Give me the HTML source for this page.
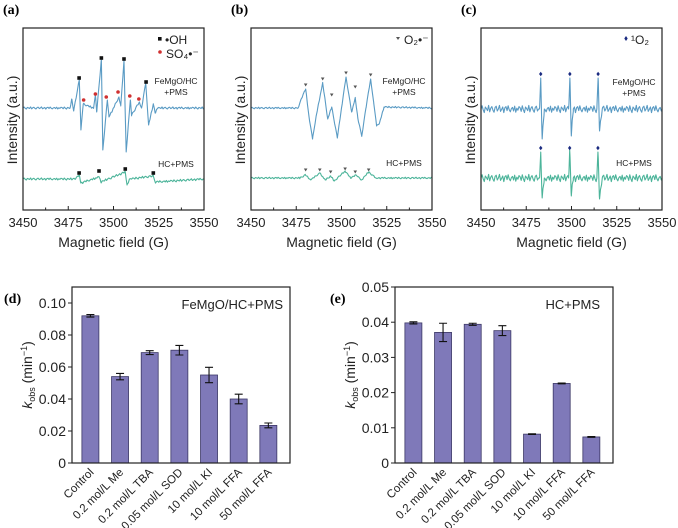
<!DOCTYPE html>
<html><head><meta charset="utf-8"><style>
body{margin:0;background:#fff;}
svg{display:block;font-family:"Liberation Sans",Arial,sans-serif;}
</style></head><body>
<svg id="fig" width="678" height="528" viewBox="0 0 678 528" xmlns="http://www.w3.org/2000/svg">
<g id="root"></g>
</svg>
<script>
// ---- ESR spectra data (field G, intensity a.u. relative to baseline) ----
const fieldTicks = [3450, 3475, 3500, 3525, 3550];
const noise = [0.3,-0.6,0.8,-0.2,-0.9,0.5,0.1,-0.4,0.9,-0.7,0.2,0.6,-0.3,-0.8,0.4,0.7,-0.5,0.0,0.9,-0.6,-0.1,0.5,-0.9,0.3,0.6,-0.4,0.8,-0.2,-0.7,0.1,0.4,-0.5,0.7,-0.8,0.2,-0.3,0.6];
const aTop = [[3450,0],[3476,0],[3476.9,9],[3478,-3],[3481.1,28],[3482,-22],[3483.3,4],[3489,0],[3490,13],[3490.7,-4],[3493.3,48],[3494.1,-42],[3496.6,8],[3497.5,-9],[3500,0],[3503,11],[3504,2],[3505.8,47],[3507,-44],[3509.3,8],[3510,-7],[3514.3,6],[3515.5,0],[3517.8,25],[3519.4,-17],[3522,4],[3523,-5],[3524.5,0],[3550,0]];
const aBot = [[3450,0],[3479,0],[3481,4],[3482,-4],[3492,2],[3493,-3],[3506.5,7],[3507.5,-6],[3509,0],[3522,3],[3523,-3],[3550,0]];
const bTop = [[3450,0],[3476,0],[3478,10],[3480.2,19],[3482,-8],[3484,-31],[3486,-8],[3489.6,25],[3492.4,-11],[3494.6,1],[3497.7,-30],[3500,0],[3502.5,31],[3505.6,-4],[3507.6,10],[3509,-10],[3511.2,-28],[3513.5,0],[3516.1,29],[3517.8,5],[3519.4,-18],[3521,-15],[3523.5,1],[3550,0]];
const bBot = [[3450,0],[3477,0],[3480,3],[3483,-2],[3488,5],[3491,-2],[3494,2],[3496,-3],[3502,7],[3505,0],[3508,3],[3511,-2],[3515,6],[3519,0],[3550,0]];
const cTop = [[3450,0],[3482.3,0],[3483,31],[3483.8,-30],[3485,0],[3498.4,0],[3499.1,31],[3499.9,-27],[3501,0],[3514,0],[3514.7,31],[3515.5,-22],[3517,0],[3550,0]];
const cBot = [[3450,0],[3482.3,0],[3483,26],[3483.8,-20],[3485,0],[3498.4,0],[3499,28],[3499.9,-18],[3501,0],[3514,0],[3514.6,26],[3515.5,-21],[3517,0],[3550,0]];
const aSquares = [[3481,30],[3493.3,50],[3505.8,49],[3518,26]];
const aRed = [[3483.5,8],[3490,14],[3496,11],[3502.5,16],[3509,12],[3514,9]];
const aBotSquares = [[3481,6],[3492,8],[3506.5,10],[3522,6]];
const bTri = [[3480.2,23],[3489.6,29],[3494.6,13],[3502.5,35],[3507.6,21],[3516.1,33]];
const bBotTri = [[3480.2,8],[3488,8],[3494,6],[3502,9],[3507.6,6],[3515,8]];
const cDiam = [[3483,35],[3499.1,35],[3514.7,35]];
const cBotDiam = [[3483,30],[3499,30],[3514.6,30]];

// ---- bar chart data ----
const categories = ["Control","0.2 mol/L Me","0.2 mol/L TBA","0.05 mol/L SOD","10 mol/L KI","10 mol/L FFA","50 mol/L FFA"];
const dValues = [0.092,0.054,0.069,0.0705,0.055,0.040,0.0235];
const dErrors = [0.0008,0.002,0.0012,0.003,0.0048,0.003,0.0015];
const eValues = [0.0398,0.0371,0.0394,0.0376,0.0082,0.0226,0.0074];
const eErrors = [0.0003,0.0026,0.0003,0.0014,0.0001,0.0001,0.0001];
const dTicks = [0,0.02,0.04,0.06,0.08,0.10];
const dTickLabels = ["0","0.02","0.04","0.06","0.08","0.10"];
const eTicks = [0,0.01,0.02,0.03,0.04,0.05];
const eTickLabels = ["0","0.01","0.02","0.03","0.04","0.05"];

const NS="http://www.w3.org/2000/svg";
const root=document.getElementById('root');
function mk(tag,attrs,parent,text){const e=document.createElementNS(NS,tag);for(const k in attrs)e.setAttribute(k,attrs[k]);if(text!==undefined)e.textContent=text;(parent||root).appendChild(e);return e;}
function interp(pts,f){for(let i=0;i<pts.length-1;i++){if(f>=pts[i][0]&&f<=pts[i+1][0]){const t=(f-pts[i][0])/(pts[i+1][0]-pts[i][0]);return pts[i][1]+t*(pts[i+1][1]-pts[i][1]);}}return 0;}

function esrPanel(x0,label,specs,markersFn,legendFn){
  const x1=x0+181,top=28,bot=210;
  const xs=f=>x0+(f-3450)/100*(x1-x0);
  const g=mk('g',{});
  
  
  const pl=mk('text',{x:x0-20,y:14,'font-family':'Liberation Serif,serif','font-weight':'bold','font-size':14},g,'('+label+')');
  
  specs.forEach((s,si)=>{
    const fields=[];
    for(let f=3450;f<=3550;f+=0.6)fields.push(f);
    s.pts.forEach(p=>fields.push(p[0]));
    fields.sort((a,b)=>a-b);
    let d='';
    fields.forEach((f,i)=>{
      const isFeat=s.pts.some(p=>p[0]===f);
      const v=interp(s.pts,f)+(isFeat?0:noise[i%noise.length]*s.n);
      d+=(i?'L':'M')+xs(f).toFixed(2)+' '+(s.base-v).toFixed(2);
    });
    const p=mk('path',{d:d,fill:'none',stroke:s.color,'stroke-width':1.1,'stroke-linejoin':'round'},g);
    
    
    const t1=mk('text',{x:x1-28,y:s.base-(si?12:24),'font-size':8.5,'text-anchor':'middle',fill:'#222'},g,si?'HC+PMS':'FeMgO/HC');
    
    if(!si){const t2=mk('text',{x:x1-28,y:s.base-13,'font-size':8.5,'text-anchor':'middle',fill:'#222'},g,'+PMS');
      }
  });
  markersFn(g,xs);
  legendFn(g,x1);
  const box=mk('rect',{x:x0,y:top,width:x1-x0,height:bot-top,fill:'none',stroke:'#222','stroke-width':1.2},g);
  
  for(let f=3450;f<=3550;f+=12.5){const major=(f%25===0);
    const tk=mk('line',{x1:xs(f),x2:xs(f),y1:bot,y2:bot-(major?4:2.5),stroke:'#222'},g);
    }
  fieldTicks.forEach(f=>{const t=mk('text',{x:xs(f),y:227,'font-size':13,'text-anchor':'middle',fill:'#222'},g,String(f));
    });
  const xt=mk('text',{x:(x0+x1)/2,y:247,'font-size':14,'text-anchor':'middle',fill:'#222'},g,'Magnetic field (G)');
  
  const yt=mk('text',{x:0,y:0,'font-size':14,'text-anchor':'middle',fill:'#222',transform:`translate(${x0-6},120) rotate(-90)`},g,'Intensity (a.u.)');
  
}
const blue='#5a9bc4',green='#4cb49a';
esrPanel(23,'a',[{name:'femgo',pts:aTop,base:108,color:blue,n:1.2},{name:'hc',pts:aBot,base:179,color:green,n:1.2}],
 (g,xs)=>{aSquares.forEach(p=>{const m=mk('rect',{x:xs(p[0])-1.8,y:108-p[1]-1.8,width:3.6,height:3.6,fill:'#111'},g);});
  aRed.forEach(p=>{const m=mk('circle',{cx:xs(p[0]),cy:108-p[1],r:1.8,fill:'#d03030'},g);});
  aBotSquares.forEach(p=>{const m=mk('rect',{x:xs(p[0])-1.8,y:179-p[1]-1.8,width:3.6,height:3.6,fill:'#111'},g);});},
 (g,x1)=>{const l=mk('g',{},g);
  mk('rect',{x:158,y:37,width:3.6,height:3.6,fill:'#111'},l);mk('text',{x:165,y:44,'font-size':12,fill:'#222'},l,'•OH');
  mk('circle',{cx:160,cy:52,r:1.8,fill:'#d03030'},l);mk('text',{x:166,y:58,'font-size':12,fill:'#222'},l,'SO₄•⁻');});
esrPanel(251,'b',[{name:'femgo',pts:bTop,base:108,color:blue,n:0.9},{name:'hc',pts:bBot,base:178,color:green,n:0.9}],
 (g,xs)=>{bTri.forEach(p=>{const x=xs(p[0]),y=108-p[1];const m=mk('path',{d:`M${x-1.8} ${y-1.5}L${x+1.8} ${y-1.5}L${x} ${y+1.5}Z`,fill:'#555'},g);});
  bBotTri.forEach(p=>{const x=xs(p[0]),y=178-p[1];const m=mk('path',{d:`M${x-1.8} ${y-1.5}L${x+1.8} ${y-1.5}L${x} ${y+1.5}Z`,fill:'#555'},g);});},
 (g,x1)=>{const l=mk('g',{},g);
  mk('path',{d:'M396 37L400 37L398 40Z',fill:'#555'},l);mk('text',{x:404,y:44,'font-size':12,fill:'#222'},l,'O₂•⁻');});
esrPanel(481,'c',[{name:'femgo',pts:cTop,base:109,color:blue,n:4},{name:'hc',pts:cBot,base:178,color:green,n:4}],
 (g,xs)=>{cDiam.forEach(p=>{const x=xs(p[0]),y=109-p[1];const m=mk('path',{d:`M${x} ${y-2.2}L${x+1.7} ${y}L${x} ${y+2.2}L${x-1.7} ${y}Z`,fill:'#1a2a80'},g);});
  cBotDiam.forEach(p=>{const x=xs(p[0]),y=178-p[1];const m=mk('path',{d:`M${x} ${y-2.2}L${x+1.7} ${y}L${x} ${y+2.2}L${x-1.7} ${y}Z`,fill:'#1a2a80'},g);});},
 (g,x1)=>{const l=mk('g',{},g);
  mk('path',{d:'M626 36L627.7 38.5L626 41L624.3 38.5Z',fill:'#1a2a80'},l);mk('text',{x:631,y:44,'font-size':12,fill:'#222'},l,'¹O₂');});

function barPanel(x0,x1,label,vals,errs,ymax,ticks,tickLabels,title,titleX,labelX){
  const top=287,bot=463;
  const ys=v=>bot-v/ymax*(bot-top);
  const step=(x1-x0)/7.35,first=x0+step*0.62;
  const g=mk('g',{});
  const pl=mk('text',{x:labelX,y:303,'font-family':'Liberation Serif,serif','font-weight':'bold','font-size':14},g,'('+label+')');
  
  vals.forEach((v,i)=>{const cx=first+i*step;
    const b=mk('rect',{x:cx-8.5,y:ys(v),width:17,height:bot-ys(v),fill:'#7f79b9',stroke:'#3c3866','stroke-width':0.8},g);
    
    const e=mk('path',{d:`M${cx} ${ys(v+errs[i])}V${ys(v-errs[i])}M${cx-4} ${ys(v+errs[i])}H${cx+4}M${cx-4} ${ys(v-errs[i])}H${cx+4}`,stroke:'#111','stroke-width':1.1,fill:'none'},g);
    
    const t=mk('text',{x:0,y:0,'font-size':11.5,'text-anchor':'end',fill:'#222',transform:`translate(${cx+4},${bot+10}) rotate(-45)`},g,categories[i]);
    
  });
  const box=mk('rect',{x:x0,y:top,width:x1-x0,height:bot-top,fill:'none',stroke:'#222','stroke-width':1.2},g);
  
  ticks.forEach((t,i)=>{const tk=mk('line',{x1:x0-4,x2:x0,y1:ys(t),y2:ys(t),stroke:'#222'},g);
    
    const tl=mk('text',{x:x0-6,y:ys(t)+5,'font-size':14,'text-anchor':'end',fill:'#222'},g,tickLabels[i]);
    });
  const tt=mk('text',{x:titleX,y:309,'font-size':13,'text-anchor':'end',fill:'#222'},g,title);
  
  const yt=mk('text',{x:0,y:0,'font-size':14,'text-anchor':'middle',fill:'#222',transform:`translate(${x0-40},${(top+bot)/2}) rotate(-90)`},g);
  
  mk('tspan',{'font-style':'italic'},yt,'k');mk('tspan',{'font-size':9,dy:3},yt,'obs');mk('tspan',{dy:-3},yt,' (min');mk('tspan',{'font-size':9,dy:-5},yt,'−1');mk('tspan',{dy:5},yt,')');
}
barPanel(72,290,'d',dValues,dErrors,0.11,dTicks,dTickLabels,'FeMgO/HC+PMS',283,4);
barPanel(395,613,'e',eValues,eErrors,0.05,eTicks,eTickLabels,'HC+PMS',600,330);
</script>
</body></html>
